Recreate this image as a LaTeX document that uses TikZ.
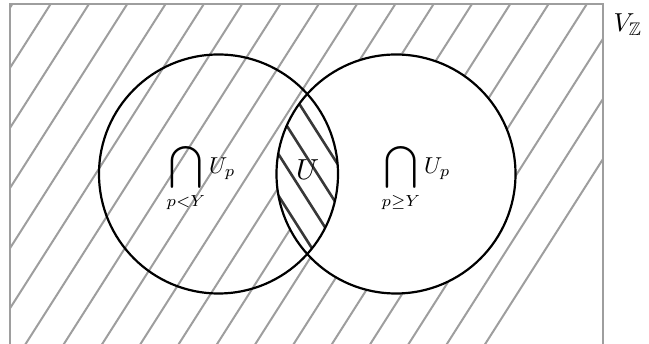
\RequirePackage{fix-cm}
\documentclass[tikz,border=0pt]{standalone}
\usepackage{amsmath,amssymb,graphicx}
\newcommand{\bigcapx}{\mathop{\vcenter{\hbox{\scalebox{1.3}{$\displaystyle\bigcap$}}}}\limits}
\tikzset{
  hatchgray/.style={draw=black!38, line width=2pt},
  hatchdark/.style={draw=black!78, line width=2.6pt},
  frame/.style={draw=black!38, line width=2pt},
  setcircle/.style={draw=black, line width=2.2pt},
  lbl/.style={inner sep=0pt}
}
\begin{document}
\begin{tikzpicture}[x=1pt,y=-1pt]
\useasboundingbox (0,0) rectangle (649,344);
\clip (0,0) rectangle (649,344);
\coordinate (A) at (218.5,174);
\coordinate (B) at (396,174);
\def\R{119.5}
% gray hatching: rectangle minus right circle
\begin{scope}[even odd rule]
  \clip (10,4.5) rectangle (603,360) (B) circle[radius=\R];
  \foreach \k in {-6,...,17} {
    \pgfmathsetmacro{\c}{53.2+38.3*\k}
    \draw[hatchgray] (\c,0) -- ({\c-360/1.57},360);
  }
\end{scope}
% dark hatching in the lens
\begin{scope}
  \clip (A) circle[radius=\R];
  \clip (B) circle[radius=\R];
  \foreach \k in {0,...,4} {
    \pgfmathsetmacro{\b}{-366+41.5*\k}
    \draw[hatchdark] (260,{1.57*260+\b}) -- (350,{1.57*350+\b});
  }
\end{scope}
\draw[frame] (10,4.5) rectangle (603,360);
\draw[setcircle] (A) circle[radius=\R];
\draw[setcircle] (B) circle[radius=\R];
\node[lbl] (left) at (201,177.5) {\scalebox{2.3}{$\displaystyle\bigcapx_{p<Y} U_p$}};
\node[lbl] (mid) at (307.5,169.5) {\scalebox{2.9}{$U$}};
\node[lbl] (right) at (416,177.5) {\scalebox{2.3}{$\displaystyle\bigcapx_{p\geq Y} U_p$}};
\node[lbl] (vz) at (628,25) {\scalebox{2.6}{$V_{\mathbb{Z}}$}};
\end{tikzpicture}
\end{document}
